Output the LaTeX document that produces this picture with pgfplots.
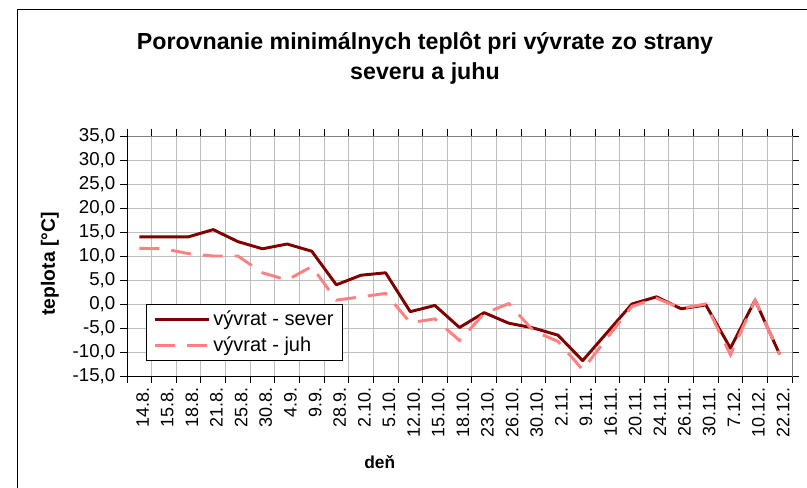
\documentclass[border=0pt]{standalone}
\usepackage{fontspec}
\setmainfont{Liberation Sans}
\usepackage{pgfplots}
\pgfplotsset{compat=1.18}
\definecolor{sever}{HTML}{800000}
\definecolor{juh}{HTML}{FF8080}
\definecolor{gridc}{HTML}{BEBEBE}

\begin{document}
\begin{tikzpicture}
% 1px = 0.75pt, picture 807x488 px
\path[use as bounding box] (0,0) rectangle (605.25pt,-366pt);
\draw[line width=0.75pt] (12.75pt,-366pt) -- (12.75pt,-7.5pt) -- (606pt,-7.5pt);
\node[anchor=base, font=\fontsize{17.4}{20}\selectfont\bfseries] at (318.75pt,-37.5pt)
  {Porovnanie minimálnych teplôt pri vývrate zo strany};
\node[anchor=base, font=\fontsize{17.4}{20}\selectfont\bfseries] at (318.75pt,-60pt)
  {severu a juhu};
\begin{axis}[
    at={(95.25pt,-282pt)}, anchor=south west,
    scale only axis, width=498.75pt, height=180pt,
    xmin=-0.5, xmax=26.5, ymin=-15, ymax=35,
    xtick={0,...,26},
    xticklabels={14.8.,15.8.,18.8.,21.8.,25.8.,30.8.,4.9.,9.9.,28.9.,2.10.,5.10.,12.10.,15.10.,18.10.,23.10.,26.10.,30.10.,2.11.,9.11.,16.11.,20.11.,24.11.,26.11.,30.11.,7.12.,10.12.,22.12.},
    minor xtick={-0.5,0.5,...,26.5},
    ytick={-15,-10,...,35},
    every major x tick/.append style={draw=none},
    tick align=outside, major tick length=5.25pt, minor tick length=5pt,
    tick style={black, line width=0.6pt},
    xminorgrids=true, ymajorgrids=true,
    grid style={draw=gridc, line width=0.6pt},
    minor grid style={draw=gridc, line width=0.6pt},
    axis line style={draw=gray, line width=0.75pt},
    xticklabel style={rotate=90, anchor=east, yshift=-2.5pt, font=\fontsize{13.5}{13.5}\selectfont},
    yticklabel style={font=\fontsize{14}{14}\selectfont},
    /pgf/number format/.cd, fixed, fixed zerofill, precision=1, use comma, assume math mode=true,
    /pgfplots/.cd,
    xlabel={deň},
    xlabel style={at={(axis description cs:0.38,-0.386)}, anchor=base, font=\fontsize{13}{13}\selectfont\bfseries},
    ylabel={teplota [°C]},
    ylabel style={at={(axis description cs:-0.1158,0.467)}, anchor=center, font=\fontsize{14.5}{14.5}\selectfont\bfseries},
    legend style={at={(rel axis cs:0.0286,0.3)}, anchor=north west, draw=black, line width=0.75pt,
        font=\fontsize{15}{15}\selectfont, row sep=3pt, inner xsep=5pt, inner ysep=3pt},
    legend cell align=left,
    legend image code/.code={\draw[#1] (0pt,0pt) -- (41pt,0pt);},
]
\addplot[sever, line width=2.2pt, line join=round] coordinates {
(0,14) (1,14) (2,14) (3,15.5) (4,13) (5,11.5) (6,12.5) (7,11) (8,4) (9,6)
(10,6.5) (11,-1.6) (12,-0.3) (13,-4.9) (14,-1.8) (15,-4) (16,-5) (17,-6.5)
(18,-11.8) (19,-5.9) (20,0) (21,1.5) (22,-1) (23,-0.2) (24,-9.2) (25,0.8) (26,-10.5)};
\addplot[juh, line width=2.2pt, dash pattern=on 15pt off 9pt] coordinates {
(0,11.6) (1,11.5) (2,10.5) (3,10) (4,10) (5,6.5) (6,5) (7,7.8) (8,0.8) (9,1.5)
(10,2.2) (11,-3.9) (12,-3.1) (13,-7.6) (14,-2) (15,0.1) (16,-5.6) (17,-7.8)
(18,-13.7) (19,-7) (20,-0.5) (21,1.2) (22,-0.9) (23,0) (24,-10.6) (25,0.8) (26,-10.5)};
\legend{vývrat - sever, vývrat - juh}
\draw[black, line width=0.75pt] (rel axis cs:0,1) -- (rel axis cs:0,0) -- (rel axis cs:1,0);
\end{axis}
\end{tikzpicture}
\end{document}
